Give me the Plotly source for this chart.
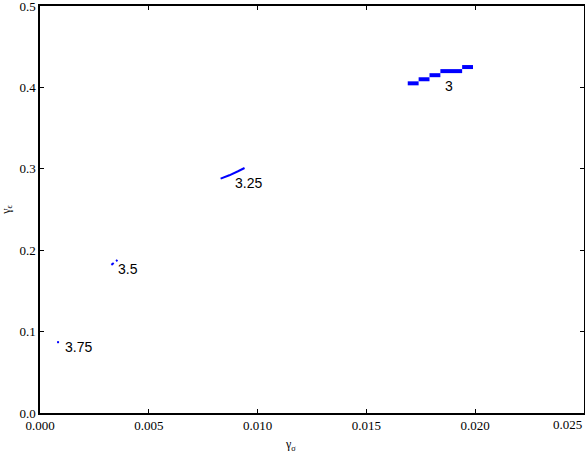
import plotly.graph_objects as go

# cluster "3": horizontal steps (y level, x start, x end)
step_y = [0.405, 0.410, 0.415, 0.420, 0.425]
step_x0 = [0.0169, 0.0174, 0.0179, 0.0184, 0.0194]
step_x1 = [0.0174, 0.0179, 0.0184, 0.0194, 0.0199]

# cluster "3.25"
c325_x = [0.0083, 0.0087, 0.0091, 0.0094]
c325_y = [0.288, 0.292, 0.297, 0.301]

# cluster "3.5"
c35_x = [0.00328, 0.00342, 0.00356]
c35_y = [0.182, 0.185, 0.188]

# cluster "3.75"
c375_x = [0.00083]
c375_y = [0.087]

labels = ["3", "3.25", "3.5", "3.75"]
label_x = [0.0185, 0.00885, 0.00348, 0.00105]
label_y = [0.402, 0.283, 0.177, 0.081]

x_ticks = [0.0, 0.005, 0.010, 0.015, 0.020, 0.025]
y_ticks = [0.0, 0.1, 0.2, 0.3, 0.4, 0.5]

blue = "#0000ff"
fig = go.Figure()

sx, sy = [], []
for y, a, b in zip(step_y, step_x0, step_x1):
    sx += [a, b, None]
    sy += [y, y, None]
fig.add_trace(go.Scatter(x=sx, y=sy, mode="lines", line=dict(color=blue, width=4)))
fig.add_trace(go.Scatter(x=c325_x, y=c325_y, mode="lines", line=dict(color=blue, width=2)))
fig.add_trace(go.Scatter(x=c35_x, y=c35_y, mode="lines", line=dict(color=blue, width=2, dash="dot")))
fig.add_trace(go.Scatter(x=c375_x, y=c375_y, mode="markers",
                         marker=dict(color=blue, size=2, symbol="square")))

for t, x, y in zip(labels, label_x, label_y):
    fig.add_annotation(x=x, y=y, text=t, showarrow=False, xanchor="left", yanchor="middle",
                       font=dict(family="Liberation Sans, Arial, sans-serif", size=14, color="black"))

serif_family = "Liberation Serif, Times New Roman, serif"
serif = dict(family=serif_family, size=13, color="black")
small = dict(family=serif_family, size=12, color="black")
# axis titles placed as paper annotations
fig.add_annotation(xref="paper", yref="paper", x=0.46, y=-0.055, yanchor="top",
                   text="γ<sub>σ</sub>", showarrow=False, font=small)
fig.add_annotation(xref="paper", yref="paper", x=-0.062, y=0.5, xanchor="center",
                   yanchor="middle", text="γ<sub>ϵ</sub>", showarrow=False,
                   textangle=-90, font=small)
# last x tick label sits flush with the right edge
fig.add_annotation(xref="paper", yref="paper", x=1.0, y=-0.006, xanchor="right",
                   yanchor="top", text=f"{x_ticks[-1]:.3f}", showarrow=False, font=serif)

axis_common = dict(
    showgrid=False, zeroline=False, showline=True, linecolor="black", linewidth=1.5,
    mirror="ticks", ticks="inside", ticklen=4, tickcolor="black",
    tickfont=serif, automargin=False, ticklabeloverflow="allow",
)
fig.update_xaxes(range=[0, 0.025], tickvals=x_ticks,
                 ticktext=[f"{v:.3f}" for v in x_ticks[:-1]] + [""],
                 **axis_common)
fig.update_yaxes(range=[0, 0.5], tickvals=y_ticks, ticktext=[f"{v:.1f}" for v in y_ticks],
                 **axis_common)
fig.update_layout(
    width=585, height=454, showlegend=False,
    margin=dict(l=40, r=1, t=6, b=41),
    paper_bgcolor="white", plot_bgcolor="white",
)
fig.write_html("out.html", config={"displayModeBar": False},
               post_script="document.body.style.margin='0';")
